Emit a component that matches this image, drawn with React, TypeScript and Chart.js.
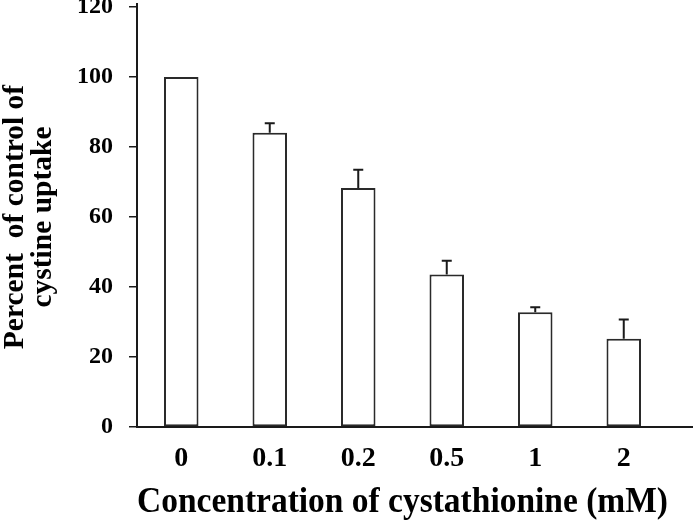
import React, { useEffect, useRef } from "react";
import { Chart, registerables } from "chart.js";

Chart.register(...registerables);

const categories = ["0", "0.1", "0.2", "0.5", "1", "2"];
const percentValues = [100, 84.1, 68.3, 43.6, 32.8, 25.2];
const errorUp = [0, 2.7, 5.2, 3.9, 1.4, 5.5];
const yTicks = [0, 20, 40, 60, 80, 100, 120];
const xTitle = "Concentration of cystathionine (mM)";
const yTitle = ["Percent  of control of", "cystine uptake"];

const FONT = "'Liberation Serif', 'Times New Roman', serif";
const INK = "#1a1a1a";

const errorBarPlugin = {
  id: "errorBars",
  afterDatasetsDraw(chart: any) {
    const { ctx } = chart;
    const meta = chart.getDatasetMeta(0);
    const y = chart.scales.y;
    ctx.save();
    ctx.strokeStyle = INK;
    ctx.lineWidth = 2;
    meta.data.forEach((bar: any, i: number) => {
      const e = errorUp[i];
      if (!e) return;
      const yTop = y.getPixelForValue(percentValues[i] + e);
      const yBase = y.getPixelForValue(percentValues[i]);
      ctx.beginPath();
      ctx.moveTo(bar.x, yBase);
      ctx.lineTo(bar.x, yTop);
      ctx.moveTo(bar.x - 5, yTop);
      ctx.lineTo(bar.x + 5, yTop);
      ctx.stroke();
    });
    ctx.restore();
  },
};

const axisExtendPlugin = {
  id: "axisExtend",
  afterDraw(chart: any) {
    const { ctx, chartArea, width } = chart;
    const yPix = Math.round(chartArea.bottom);
    ctx.save();
    ctx.strokeStyle = INK;
    ctx.lineWidth = 2;
    ctx.beginPath();
    ctx.moveTo(chartArea.right - 1, yPix);
    ctx.lineTo(width, yPix);
    ctx.moveTo(Math.round(chartArea.left), chartArea.top);
    ctx.lineTo(Math.round(chartArea.left), chartArea.top - 4);
    ctx.stroke();
    ctx.restore();
  },
};

export default function App() {
  const ref = useRef<HTMLCanvasElement | null>(null);
  useEffect(() => {
    if (!ref.current) return;
    const chart = new Chart(ref.current, {
      type: "bar",
      data: {
        labels: categories,
        datasets: [
          {
            data: percentValues,
            backgroundColor: "#ffffff",
            borderColor: "#2a2a2a",
            borderWidth: 2,
            borderSkipped: false,
            categoryPercentage: 1,
            barPercentage: 0.39,
          },
        ],
      },
      options: {
        animation: false,
        responsive: false,
        maintainAspectRatio: false,
        layout: { padding: { top: 7, right: 25, bottom: 0, left: 0 } },
        plugins: { legend: { display: false }, tooltip: { enabled: false } },
        scales: {
          x: {
            type: "category",
            grid: { display: false, drawTicks: false },
            border: { display: true, color: INK, width: 2 },
            ticks: {
              color: "#000",
              font: { family: FONT, size: 28, weight: "bold", lineHeight: 1.2 },
              padding: 15,
            },
            title: {
              display: true,
              text: xTitle,
              color: "#000",
              font: { family: FONT, size: 35.5, weight: "bold", lineHeight: 1.0 },
              padding: { top: 0, bottom: 1 },
            },
            afterFit(scale: any) {
              scale.height = 95;
              scale.paddingLeft = 0;
              scale.paddingRight = 0;
            },
          },
          y: {
            min: 0,
            max: 120,
            afterBuildTicks(scale: any) {
              scale.ticks = yTicks.map((v) => ({ value: v }));
            },
            grid: {
              display: true,
              drawOnChartArea: false,
              drawTicks: true,
              tickLength: 8,
              color: INK,
              lineWidth: 1.5,
            },
            border: { display: true, color: INK, width: 2 },
            ticks: {
              color: "#000",
              font: { family: FONT, size: 24, weight: "bold" },
              padding: 16,
            },
            title: {
              display: true,
              text: yTitle,
              color: "#000",
              font: { family: FONT, size: 29.5, weight: "bold", lineHeight: 0.95 },
              padding: { top: 1, bottom: 0 },
            },
            afterFit(scale: any) {
              scale.width = 137;
              scale.paddingTop = 0;
              scale.paddingBottom = 0;
            },
          },
        },
      },
      plugins: [errorBarPlugin, axisExtendPlugin],
    } as any);
    return () => chart.destroy();
  }, []);
  return (
    <div style={{ position: "absolute", left: 0, top: 0, width: 693, height: 522, background: "#fff" }}>
      <canvas ref={ref} width={693} height={522} style={{ display: "block" }} />
    </div>
  );
}
